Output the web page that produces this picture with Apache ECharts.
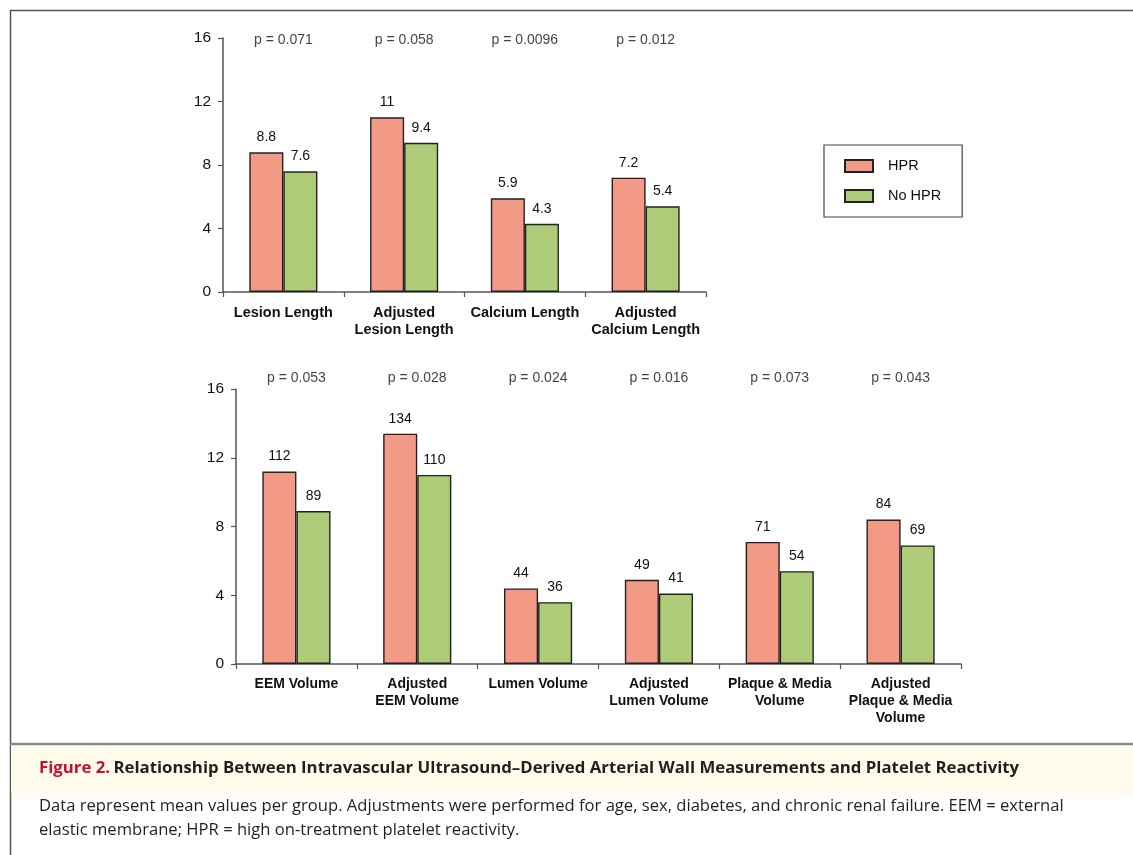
<!DOCTYPE html>
<html>
<head>
<meta charset="utf-8">
<style>
  html, body { margin: 0; padding: 0; background: #ffffff; }
  #chart { width: 1133px; height: 855px; }
</style>
<script src="https://cdn.jsdelivr.net/npm/echarts@6/dist/echarts.min.js"></script>
</head>
<body>
<div id="chart"></div>
<script>
// Upper panel: lengths
const topCategories = ['Lesion Length', 'Adjusted\nLesion Length', 'Calcium Length', 'Adjusted\nCalcium Length'];
const topHPR = [8.8, 11, 5.9, 7.2];
const topNoHPR = [7.6, 9.4, 4.3, 5.4];
const topPValues = ['p = 0.071', 'p = 0.058', 'p = 0.0096', 'p = 0.012'];

// Lower panel: volumes (axis labels read in tens)
const bottomCategories = ['EEM Volume', 'Adjusted\nEEM Volume', 'Lumen Volume', 'Adjusted\nLumen Volume', 'Plaque & Media\nVolume', 'Adjusted\nPlaque & Media\nVolume'];
const bottomHPR = [112, 134, 44, 49, 71, 84];
const bottomNoHPR = [89, 110, 36, 41, 54, 69];
const bottomPValues = ['p = 0.053', 'p = 0.028', 'p = 0.024', 'p = 0.016', 'p = 0.073', 'p = 0.043'];

const seriesNames = ['HPR', 'No HPR'];
const topAxis = { min: 0, max: 16, interval: 4 };
const bottomAxis = { min: 0, max: 160, interval: 40 };

const captionTitle = 'Figure 2.';
const captionHeading = 'Relationship Between Intravascular Ultrasound\u2013Derived Arterial Wall Measurements and Platelet Reactivity';
const captionBody = 'Data represent mean values per group. Adjustments were performed for age, sex, diabetes, and chronic renal failure. EEM = external\nelastic membrane; HPR = high on-treatment platelet reactivity.';

const FONT = '"Liberation Sans", Arial, Helvetica, sans-serif';
const CAPTION_FONT = '"Open Sans", "Noto Sans", sans-serif';
const HPR_COLOR = '#f39a87';
const NOHPR_COLOR = '#aecb77';
const AXIS_COLOR = '#555555';
const TEXT_COLOR = '#111111';

const chart = echarts.init(document.getElementById('chart'));

function valueAxis(gridIndex, range, divisor) {
  return {
    type: 'value',
    gridIndex: gridIndex,
    min: range.min,
    max: range.max,
    interval: range.interval,
    axisLine: { show: true, lineStyle: { color: AXIS_COLOR, width: 1.5 } },
    axisTick: { show: true, length: 5, lineStyle: { color: AXIS_COLOR, width: 1.2 } },
    splitLine: { show: false },
    axisLabel: {
      margin: 12,
      fontFamily: FONT,
      fontSize: 15.5,
      color: TEXT_COLOR,
      formatter: function (v) { return String(v / divisor); }
    }
  };
}

function categoryAxis(gridIndex, cats) {
  return {
    type: 'category',
    gridIndex: gridIndex,
    data: cats,
    axisLine: { show: true, lineStyle: { color: AXIS_COLOR, width: 1.5 } },
    axisTick: { show: true, length: 5, lineStyle: { color: AXIS_COLOR, width: 1.2 } },
    axisLabel: {
      interval: 0,
      margin: 12,
      fontFamily: FONT,
      fontSize: gridIndex === 0 ? 14.5 : 14,
      fontWeight: 'bold',
      lineHeight: 17,
      color: TEXT_COLOR
    }
  };
}

function barSeries(name, data, axisIdx, color) {
  return {
    name: name,
    type: 'bar',
    xAxisIndex: axisIdx,
    yAxisIndex: axisIdx,
    data: data,
    barWidth: '28.2%',
    barGap: '0%',
    itemStyle: { color: color, borderColor: '#222222', borderWidth: 1.4 },
    label: {
      show: true,
      position: 'top',
      distance: 8,
      fontFamily: FONT,
      fontSize: 14,
      color: TEXT_COLOR
    },
    emphasis: { disabled: true }
  };
}

function pValueSeries(labels, axisIdx, yValue, offsetY) {
  return {
    type: 'scatter',
    xAxisIndex: axisIdx,
    yAxisIndex: axisIdx,
    symbolSize: 1,
    itemStyle: { color: 'rgba(0,0,0,0)' },
    silent: true,
    data: labels.map(function (t, i) { return [i, yValue]; }),
    label: {
      show: true,
      position: 'inside',
      offset: [0, offsetY],
      fontFamily: FONT,
      fontSize: 14,
      color: TEXT_COLOR,
      formatter: function (p) { return labels[p.dataIndex]; }
    }
  };
}

const option = {
  backgroundColor: '#ffffff',
  animation: false,
  textStyle: { fontFamily: FONT },
  legend: {
    data: seriesNames,
    orient: 'vertical',
    left: 824,
    top: 145,
    padding: [13, 21, 13, 20],
    borderColor: '#444444',
    borderWidth: 1.2,
    icon: 'rect',
    itemWidth: 28,
    itemHeight: 12,
    itemGap: 14,
    selectedMode: false,
    textStyle: {
      fontFamily: FONT,
      fontSize: 14.5,
      color: TEXT_COLOR,
      lineHeight: 16,
      padding: [0, 0, 0, 10]
    }
  },
  grid: [
    { left: 223, top: 38, width: 483, height: 254, containLabel: false },
    { left: 236, top: 389, width: 725, height: 275, containLabel: false }
  ],
  xAxis: [categoryAxis(0, topCategories), categoryAxis(1, bottomCategories)],
  yAxis: [valueAxis(0, topAxis, 1), valueAxis(1, bottomAxis, 10)],
  series: [
    barSeries(seriesNames[0], topHPR, 0, HPR_COLOR),
    barSeries(seriesNames[1], topNoHPR, 0, NOHPR_COLOR),
    barSeries(seriesNames[0], bottomHPR, 1, HPR_COLOR),
    barSeries(seriesNames[1], bottomNoHPR, 1, NOHPR_COLOR),
    pValueSeries(topPValues, 0, topAxis.max, 2),
    pValueSeries(bottomPValues, 1, bottomAxis.max, -11)
  ],
  graphic: [
    // figure frame
    { type: 'line', silent: true, shape: { x1: 10, y1: 10.5, x2: 1133, y2: 10.5 }, style: { stroke: '#555555', lineWidth: 1.5 } },
    { type: 'line', silent: true, shape: { x1: 10.5, y1: 10, x2: 10.5, y2: 855 }, style: { stroke: '#555555', lineWidth: 1.5 } },
    // caption band
    { type: 'rect', silent: true, shape: { x: 11, y: 745, width: 1122, height: 48 }, style: { fill: '#fffbeb' } },
    { type: 'line', silent: true, shape: { x1: 10, y1: 744, x2: 1133, y2: 744 }, style: { stroke: '#8a8a8a', lineWidth: 2.5 } },
    {
      type: 'text', silent: true, left: 39, top: 760,
      style: {
        text: '{r|' + captionTitle + '} {b|' + captionHeading + '}',
        rich: {
          r: { fontFamily: CAPTION_FONT, fontWeight: 'bold', fontSize: 16.8, fill: '#c8102e', color: '#c8102e' },
          b: { fontFamily: CAPTION_FONT, fontWeight: 'bold', fontSize: 16.8, fill: '#231f20', color: '#231f20' }
        }
      }
    },
    {
      type: 'text', silent: true, left: 39, top: 794,
      style: {
        text: captionBody,
        fontFamily: CAPTION_FONT,
        fontSize: 16.6,
        lineHeight: 24,
        fill: '#231f20'
      }
    }
  ]
};

chart.setOption(option);
</script>
</body>
</html>
